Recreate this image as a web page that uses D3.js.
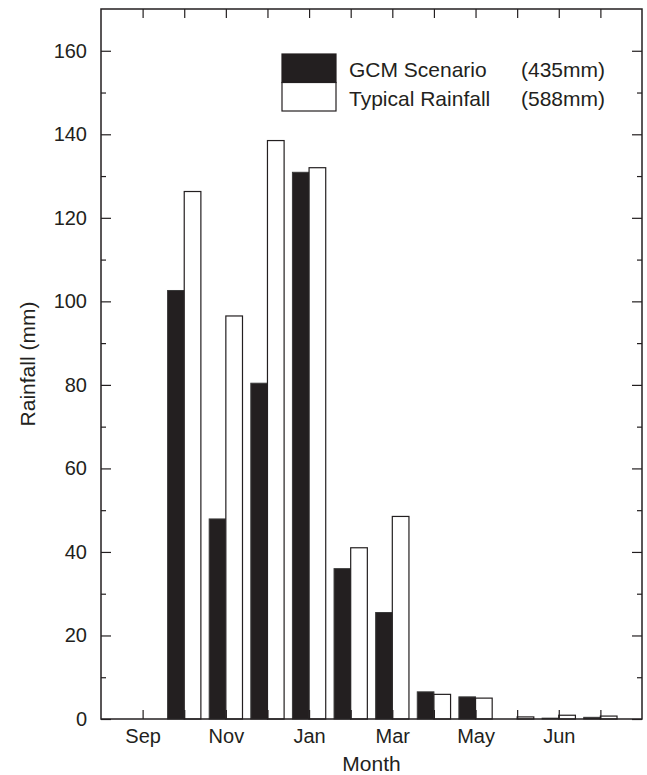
<!DOCTYPE html>
<html>
<head>
<meta charset="utf-8">
<script src="https://cdn.jsdelivr.net/npm/d3@7/dist/d3.min.js"></script>
<style>
  body { margin: 0; background: #fff; }
  svg text { font-family: "Liberation Sans", Arial, Helvetica, sans-serif; fill: #231f20; }
</style>
</head>
<body>
<div id="chart"></div>
<script>
// month slots 1..12 (Sep..Aug)
var months = [1, 2, 3, 4, 5, 6, 7, 8, 9, 10, 11, 12];
var monthLabels = {1: "Sep", 3: "Nov", 5: "Jan", 7: "Mar", 9: "May", 11: "Jun"};
var gcm     = [0, 102.6, 47.9, 80.4, 130.9, 36.0, 25.5, 6.5, 5.3, 0, 0.2, 0.4];
var typical = [0, 126.3, 96.5, 138.5, 132.0, 41.0, 48.5, 5.9, 5.0, 0.5, 0.9, 0.7];
var yMajor = [0, 20, 40, 60, 80, 100, 120, 140, 160];
var yMinor = [10, 30, 50, 70, 90, 110, 130, 150];

var
  W = 647, H = 775,
  pLeft = 101, pRight = 642, pTop = 9, pBottom = 719,
  ink = "#231f20",

  x = d3.scaleLinear().domain([0, 13]).range([pLeft, pRight]),
  y = d3.scaleLinear().domain([0, 170]).range([pBottom, pTop]),

  svg = d3.select("#chart").append("svg")
    .attr("width", W)
    .attr("height", H);

// bars
var barW = 0.4;
var bars = svg.append("g").attr("id", "bars");

bars.selectAll("rect.gcm")
  .data(months.map(function(m, i){ return {m: m, v: gcm[i]}; }).filter(function(d){ return d.v > 0; }))
  .enter().append("rect")
  .attr("class", "gcm")
  .attr("x", function(d){ return x(d.m - barW); })
  .attr("y", function(d){ return y(d.v); })
  .attr("width", function(d){ return x(d.m) - x(d.m - barW); })
  .attr("height", function(d){ return y(0) - y(d.v); })
  .style("fill", ink)
  .style("stroke", "#3a3a3a")
  .style("stroke-width", 1);

bars.selectAll("rect.typ")
  .data(months.map(function(m, i){ return {m: m, v: typical[i]}; }).filter(function(d){ return d.v > 0; }))
  .enter().append("rect")
  .attr("class", "typ")
  .attr("x", function(d){ return x(d.m); })
  .attr("y", function(d){ return y(d.v); })
  .attr("width", function(d){ return x(d.m + barW) - x(d.m); })
  .attr("height", function(d){ return y(0) - y(d.v); })
  .style("fill", "#fff")
  .style("stroke", ink)
  .style("stroke-width", 1.2);

// axes, ticks pointing inward
var fmtMonth = function(d){ return monthLabels[d] || ""; };

svg.append("g")
  .attr("transform", "translate(0," + pBottom + ")")
  .call(d3.axisBottom(x).tickValues(months).tickFormat(fmtMonth).tickSize(-9).tickPadding(10));

svg.append("g")
  .attr("transform", "translate(0," + pTop + ")")
  .call(d3.axisTop(x).tickValues(months).tickFormat("").tickSize(-9));

svg.append("g")
  .attr("transform", "translate(" + pLeft + ",0)")
  .call(d3.axisLeft(y).tickValues(yMajor).tickFormat(d3.format("d")).tickSize(-10).tickPadding(14));

svg.append("g")
  .attr("transform", "translate(" + pLeft + ",0)")
  .call(d3.axisLeft(y).tickValues(yMinor).tickFormat("").tickSize(-5));

svg.append("g")
  .attr("transform", "translate(" + pRight + ",0)")
  .call(d3.axisRight(y).tickValues(yMajor).tickFormat("").tickSize(-10));

svg.append("g")
  .attr("transform", "translate(" + pRight + ",0)")
  .call(d3.axisRight(y).tickValues(yMinor).tickFormat("").tickSize(-5));

svg.selectAll(".domain").remove();
svg.selectAll(".tick line").style("stroke", ink).style("stroke-width", 1.2);
svg.selectAll(".tick text").style("font-size", "20px").style("fill", ink);

// frame
svg.append("rect")
  .attr("x", pLeft)
  .attr("y", pTop)
  .attr("width", pRight - pLeft)
  .attr("height", pBottom - pTop)
  .style("fill", "none")
  .style("stroke", ink)
  .style("stroke-width", 1.5);

// axis titles
svg.append("text")
  .attr("x", (pLeft + pRight) / 2)
  .attr("y", 771)
  .attr("text-anchor", "middle")
  .style("font-size", "21px")
  .text("Month");

svg.append("text")
  .attr("transform", "translate(35," + (pTop + pBottom) / 2 + ") rotate(-90)")
  .attr("text-anchor", "middle")
  .style("font-size", "21px")
  .text("Rainfall (mm)");

// legend
var legend = svg.append("g").attr("id", "legend");
var series = [
  {name: "GCM Scenario", total: "(435mm)", fill: ink},
  {name: "Typical Rainfall", total: "(588mm)", fill: "#fff"}
];

legend.selectAll("rect")
  .data(series)
  .enter().append("rect")
  .attr("x", 282)
  .attr("y", function(d, i){ return 54 + i * 28.5; })
  .attr("width", 54)
  .attr("height", 28.5)
  .style("fill", function(d){ return d.fill; })
  .style("stroke", ink)
  .style("stroke-width", 1.2);

legend.selectAll("text.name")
  .data(series)
  .enter().append("text")
  .attr("class", "name")
  .attr("x", 349)
  .attr("y", function(d, i){ return 77 + i * 28.5; })
  .style("font-size", "21px")
  .text(function(d){ return d.name; });

legend.selectAll("text.total")
  .data(series)
  .enter().append("text")
  .attr("class", "total")
  .attr("x", 521)
  .attr("y", function(d, i){ return 77 + i * 28.5; })
  .style("font-size", "21px")
  .text(function(d){ return d.total; });
</script>
</body>
</html>
